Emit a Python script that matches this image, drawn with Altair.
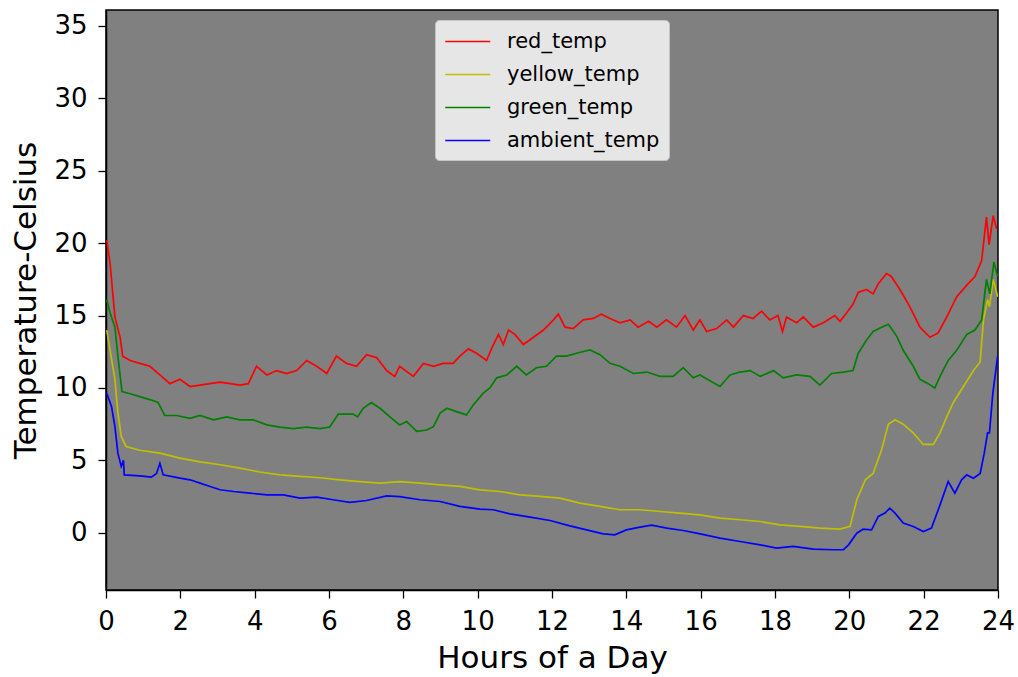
import altair as alt
import pandas as pd

# ---- data ----
red_h = [0.02,0.11,0.24,0.38,0.45,0.65,0.91,1.18,1.45,1.72,
         1.99,2.26,2.53,2.8,3.07,3.34,3.6,3.83,4.05,4.33,
         4.59,4.86,5.13,5.4,5.67,5.94,6.2,6.47,6.74,7.01,
         7.28,7.55,7.77,7.9,
         8.27,8.54,8.81,9.07,9.34,9.52,9.75,9.97,10.24,10.37,
         10.56,10.69,10.83,11.0,11.23,11.5,11.77,12.04,12.17,12.35,
         12.57,12.84,13.11,13.33,13.56,13.83,14.1,14.32,14.6,14.82,
         15.08,15.35,15.58,15.8,
         15.98,16.16,16.43,16.7,16.88,17.15,17.41,17.64,17.86,18.08,
         18.2,18.31,18.58,18.76,19.03,19.3,19.61,19.75,19.93,20.1,
         20.24,20.46,20.64,20.78,21.0,21.13,21.36,21.63,21.9,22.17,
         22.39,22.62,22.89,23.16,23.38,23.56,23.69,23.76,23.87,23.96]
red_v = [20.2,18.6,14.9,13.5,12.2,11.9,11.7,11.5,10.9,10.3,
         10.6,10.1,10.2,10.3,10.4,10.3,10.2,10.3,11.5,10.9,
         11.2,11.0,11.2,11.9,11.5,11.0,12.2,11.7,11.5,12.3,
         12.1,11.2,10.8,11.5,
         10.8,11.7,11.5,11.7,11.7,12.2,12.7,12.4,11.9,12.7,
         13.7,13.0,14.0,13.7,13.0,13.5,14.0,14.7,15.1,14.2,
         14.1,14.7,14.8,15.1,14.8,14.5,14.7,14.2,14.6,14.2,
         14.7,14.2,15.0,14.0,
         14.7,13.9,14.1,14.7,14.2,15.0,14.8,15.3,14.7,15.0,
         13.9,14.9,14.5,14.9,14.2,14.5,15.0,14.6,15.2,15.8,
         16.6,16.8,16.5,17.2,17.9,17.7,16.8,15.6,14.2,13.5,
         13.8,14.9,16.3,17.1,17.7,18.8,21.8,19.9,21.9,21.0]

yellow_h = [0.02,0.11,0.24,0.32,0.41,0.54,0.91,1.45,1.99,2.53,
            3.07,3.6,4.14,4.68,5.22,5.76,6.29,6.83,7.37,7.9,
            8.45,8.99,9.52,10.06,10.6,11.14,11.68,12.21,12.75,13.29,
            13.83,14.37,14.91,15.44,
            15.98,16.52,17.06,17.6,18.13,18.67,19.21,19.75,20.02,20.2,
            20.43,20.64,20.87,21.05,21.23,21.45,21.72,21.99,22.26,22.44,
            22.62,22.8,23.07,23.34,23.52,23.61,23.72,23.77,23.87,23.99]
yellow_v = [14.0,12.6,10.6,8.3,6.65,5.96,5.7,5.5,5.16,4.9,
            4.7,4.46,4.2,4.0,3.89,3.8,3.66,3.54,3.43,3.54,
            3.43,3.31,3.2,2.97,2.85,2.62,2.51,2.39,2.05,1.82,
            1.59,1.59,1.47,1.36,
            1.24,1.01,0.9,0.78,0.55,0.44,0.32,0.25,0.44,2.28,
            3.66,4.1,5.75,7.5,7.8,7.5,6.9,6.1,6.1,6.9,
            8.0,9.0,10.1,11.2,11.8,14.7,16.1,15.6,17.5,16.3]

green_h = [0.02,0.11,0.24,0.32,0.43,0.65,0.91,1.18,1.40,1.58,
           1.9,2.26,2.53,2.89,3.25,3.6,3.96,4.33,4.68,5.04,
           5.4,5.76,6.02,6.25,6.65,6.77,6.92,7.14,7.37,7.64,
           7.9,
           8.09,8.36,8.63,8.81,8.99,9.17,9.43,9.7,9.88,10.15,
           10.33,10.51,10.78,11.05,11.31,11.58,11.85,12.12,12.39,12.66,
           13.02,13.29,13.56,13.83,14.19,14.55,14.91,15.26,15.53,15.8,
           15.98,16.25,16.52,16.79,17.06,17.33,17.6,17.96,18.22,18.58,
           18.94,19.21,19.52,19.84,20.1,20.24,20.46,20.64,20.87,21.05,
           21.27,21.45,21.72,21.9,22.12,22.3,22.44,22.66,22.89,23.16,
           23.38,23.56,23.69,23.78,23.89,23.99]
green_v = [16.1,15.2,14.2,12.2,9.75,9.6,9.4,9.2,9.0,8.1,
           8.1,7.9,8.1,7.8,8.0,7.8,7.8,7.45,7.3,7.2,
           7.3,7.2,7.3,8.2,8.2,8.0,8.6,9.0,8.6,8.0,
           7.45,
           7.68,7.0,7.1,7.33,8.26,8.6,8.37,8.14,8.83,9.64,
           10.0,10.7,10.9,11.5,10.9,11.4,11.5,12.2,12.2,12.4,
           12.63,12.3,11.7,11.5,11.0,11.1,10.8,10.8,11.4,10.7,
           10.9,10.5,10.1,10.9,11.1,11.2,10.8,11.2,10.7,10.9,
           10.8,10.2,11.0,11.1,11.2,12.4,13.3,13.9,14.2,14.4,
           13.6,12.6,11.5,10.6,10.3,10.0,10.8,11.9,12.6,13.7,
           14.0,14.7,17.5,16.5,18.7,17.7]

ambient_h = [0.02,0.15,0.24,0.32,0.41,0.47,0.49,0.91,1.22,1.36,
             1.45,1.54,1.99,2.26,2.53,2.8,3.07,3.43,3.87,4.33,
             4.77,5.22,5.67,6.11,6.56,7.01,7.55,7.9,
             8.45,8.99,9.52,
             10.06,10.42,10.87,11.41,11.95,12.48,12.93,13.38,13.69,14.0,
             14.37,14.68,15.09,15.53,15.89,
             16.52,17.06,17.6,18.04,18.49,19.03,19.57,19.84,19.98,20.2,
             20.37,20.6,20.78,20.96,21.09,21.23,21.45,21.72,21.99,22.21,
             22.44,22.66,22.84,23.02,23.16,23.34,23.52,23.63,23.72,23.77,
             23.86,23.99]
ambient_v = [9.64,8.7,7.33,5.5,4.58,5.0,4.0,3.93,3.84,4.1,
             4.8,4.0,3.77,3.66,3.43,3.2,2.97,2.85,2.74,2.62,
             2.62,2.39,2.46,2.28,2.1,2.23,2.55,2.5,
             2.28,2.16,1.82,
             1.63,1.59,1.31,1.08,0.85,0.48,0.2,-0.07,-0.14,0.2,
             0.39,0.53,0.32,0.16,-0.02,
             -0.37,-0.6,-0.83,-1.06,-0.94,-1.13,-1.17,-1.17,-0.83,-0.03,
             0.25,0.2,1.13,1.36,1.7,1.36,0.67,0.44,0.09,0.32,
             1.93,3.54,2.74,3.66,4.0,3.77,4.1,5.5,6.9,6.9,
             9.6,12.2]

series_names = ["red_temp", "yellow_temp", "green_temp", "ambient_temp"]
series_colors = ["#ff0000", "#bfbf00", "#008000", "#0000ff"]
x_ticks = list(range(0, 25, 2))
y_ticks = list(range(0, 36, 5))

rows = []
for name, hs, vs in zip(series_names,
                        [red_h, yellow_h, green_h, ambient_h],
                        [red_v, yellow_v, green_v, ambient_v]):
    assert len(hs) == len(vs), name
    for i, (h, v) in enumerate(zip(hs, vs)):
        rows.append({"series": name, "hour": h, "temp": v, "idx": i})
df = pd.DataFrame(rows)

FONT = "DejaVu Sans"

chart = alt.Chart(df).mark_line(strokeWidth=1.7, clip=True).encode(
    x=alt.X("hour:Q", title="Hours of a Day",
            scale=alt.Scale(domain=[0, 24], nice=False, zero=False),
            axis=alt.Axis(values=x_ticks, format="d", labelPadding=10,
                          titlePadding=9)),
    y=alt.Y("temp:Q", title="Temperature-Celsius",
            scale=alt.Scale(domain=[-3.95, 36.1], nice=False, zero=False),
            axis=alt.Axis(values=y_ticks, format="d", labelPadding=11,
                          titlePadding=11)),
    color=alt.Color("series:N",
                    scale=alt.Scale(domain=series_names, range=series_colors),
                    sort=series_names,
                    legend=alt.Legend(title=None, orient="none",
                                      legendX=329, legendY=10)),
    order="idx:Q",
).properties(
    width=892, height=580,
    autosize=alt.AutoSizeParams(type="none"),
    padding={"left": 106, "top": 10, "right": 20, "bottom": 87},
).configure_view(
    fill="#808080", stroke="black", strokeWidth=1.5
).configure_axis(
    grid=False,
    domainColor="black", domainWidth=1.5,
    tickColor="black", tickWidth=1.3, tickSize=8,
    labelFont=FONT, labelFontSize=26, labelColor="black",
    titleFont=FONT, titleFontSize=31, titleColor="black", titleFontWeight="normal",
    labelFlush=False,
).configure_legend(
    fillColor="#e6e6e6", strokeColor="#c4c4c4", cornerRadius=4,
    padding=9, symbolType="M-1,0H3", symbolSize=506, symbolStrokeWidth=1.7,
    labelFont=FONT, labelFontSize=21, labelColor="black", labelOffset=38,
    rowPadding=10,
)

chart.save("out.html", embed_options={"renderer": "svg", "actions": False})
